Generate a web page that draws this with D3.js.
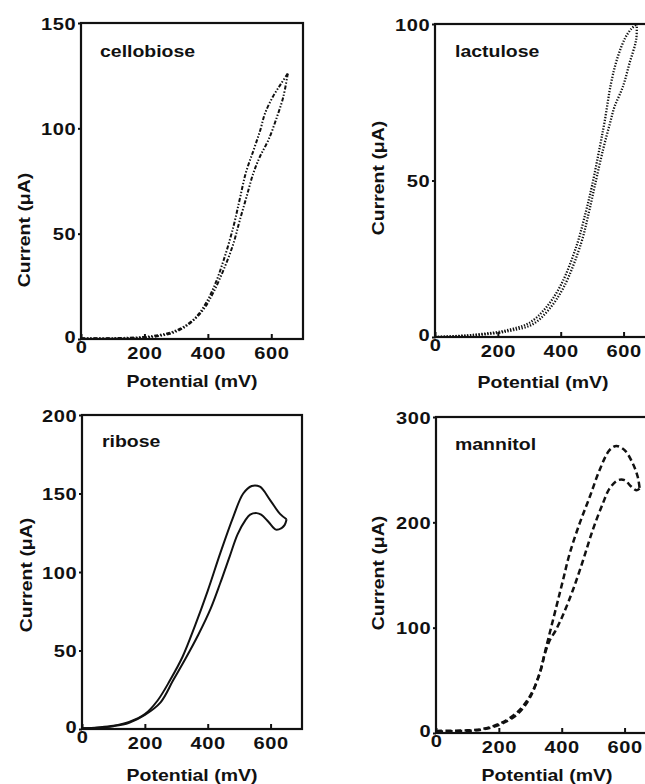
<!DOCTYPE html>
<html>
<head>
<meta charset="utf-8">
<script src="https://cdn.jsdelivr.net/npm/d3@7"></script>
<style>
  body { margin: 0; background: #fff; }
  text { font-family: "Liberation Sans", Arial, sans-serif; font-weight: bold; fill: #111; }
</style>
</head>
<body>
<svg id="chart" width="645" height="784"></svg>
<script>
// Potential axis (mV), shared by the four panels
const potentialDomain = [0, 700];
const potentialTicks = [0, 200, 400, 600];

// Current tick values (uA) per panel
const cellobioseTicks = [0, 50, 100, 150];
const lactuloseTicks = [0, 50, 100];
const riboseTicks = [0, 50, 100, 150, 200];
const mannitolTicks = [0, 100, 200, 300];

// Voltammograms as [potential mV, current uA], forward then reverse scan
const cellobioseForward = [[0, 0.3], [100, 0.4], [200, 1], [250, 2], [280, 3], [320, 5.5], [360, 10], [390, 16],
  [420, 25], [450, 37.5], [480, 53], [500, 66], [520, 79], [545, 90], [565, 99], [580, 107], [605, 115], [630, 121], [652, 126]];
const cellobioseReverse = [[652, 126], [638, 115], [617, 105], [591, 94.5], [564, 86.5], [543, 78.5], [522, 67.5],
  [500, 56], [480, 45], [450, 33], [417, 22], [386, 14], [344, 7.5], [300, 3.5], [250, 1.5], [200, 0.7], [100, 0.3], [0, 0.2]];

const lactuloseForward = [[0, 0], [100, 0.5], [150, 1], [200, 1.6], [250, 2.7], [300, 4.5], [350, 9], [400, 16.5],
  [450, 29], [480, 40], [500, 48.5], [525, 61], [540, 69], [560, 81], [580, 89], [605, 95.5], [625, 98.5], [642, 100]];
const lactuloseReverse = [[642, 100], [640, 95], [619, 87.5], [598, 80], [571, 73.5], [556, 68], [535, 60], [510, 49],
  [490, 40], [465, 30], [410, 16], [360, 8.5], [310, 4], [250, 2.2], [200, 1.3], [100, 0.4], [0, 0]];

const riboseForward = [[0, 0.5], [50, 1], [100, 2], [150, 4.5], [200, 9.5], [240, 18], [280, 31], [320, 46],
  [360, 66], [400, 88], [440, 112], [481, 135], [513, 150], [540, 154.8], [566, 154.3], [598, 146], [630, 137], [651, 133.6]];
const riboseReverse = [[651, 133.6], [645, 130], [635, 128], [617, 127], [593, 132], [570, 136.5], [556, 137.5],
  [535, 136.5], [520, 133], [495, 124], [470, 110], [440, 93], [410, 77], [370, 60], [330, 45], [290, 31],
  [250, 17], [200, 9], [150, 4], [100, 1.8], [50, 0.8], [0, 0.4]];

const mannitolForward = [[0, 2], [100, 2.5], [150, 4], [203, 9], [256, 19], [298, 34.5], [330, 56.5], [351, 82],
  [383, 120], [404, 145], [425, 170], [457, 199], [489, 224], [521, 250], [552, 268.5], [574, 272.5], [600, 268.5],
  [626, 256], [642, 243], [648, 232]];
const mannitolReverse = [[648, 232], [637, 230.5], [621, 234], [600, 240], [579, 240], [552, 232], [531, 218],
  [499, 193], [468, 164], [436, 136], [404, 112], [380, 97], [362, 88], [345, 74], [330, 57], [298, 33], [256, 17],
  [203, 8], [150, 3.5], [100, 2], [0, 1.5]];

// Panel layout (pixel boxes and label placement)
const panels = [
  { name: "cellobiose", scans: [cellobioseForward, cellobioseReverse], yTicks: cellobioseTicks,
    box: { left: 81, right: 303, top: 23, bottom: 339 },
    nameAt: [100, 57], xLabelAt: [192, 387], yLabelAt: [24, 230],
    stroke: { width: 2, dash: "4,1.8,1.4,1.8,1.4,1.8" } },
  { name: "lactulose", scans: [lactuloseForward, lactuloseReverse], yTicks: lactuloseTicks,
    box: { left: 435, right: 655, top: 24, bottom: 337 },
    nameAt: [455, 57], xLabelAt: [543, 388], yLabelAt: [378, 178],
    stroke: { width: 2.3, dash: "1.3,1.6" } },
  { name: "ribose", scans: [riboseForward, riboseReverse], yTicks: riboseTicks,
    box: { left: 82, right: 302, top: 415, bottom: 729 },
    nameAt: [102, 447], xLabelAt: [192, 781], yLabelAt: [26, 575],
    stroke: { width: 2, dash: null } },
  { name: "mannitol", scans: [mannitolForward, mannitolReverse], yTicks: mannitolTicks,
    box: { left: 436, right: 656, top: 417, bottom: 733 },
    nameAt: [455, 450], xLabelAt: [547, 781], yLabelAt: [378, 573],
    stroke: { width: 2.5, dash: "6,3.5" } }
];

// the scanned lettering is a bit wide, so stretch text horizontally
const textStretch = 1.18;

const svg = d3.select("#chart");

panels.forEach(p => {
  const x = d3.scaleLinear().domain(potentialDomain).range([p.box.left, p.box.right]);
  const y = d3.scaleLinear().domain([0, d3.max(p.yTicks)]).range([p.box.bottom, p.box.top]);

  const g = svg.append("g");

  // Frame
  g.append("rect")
    .attr("x", x(potentialDomain[0]))
    .attr("y", y(d3.max(p.yTicks)))
    .attr("width", x(potentialDomain[1]) - x(potentialDomain[0]))
    .attr("height", y(0) - y(d3.max(p.yTicks)))
    .attr("fill", "none")
    .attr("stroke", "#111")
    .attr("stroke-width", 2.2);

  // Bottom axis, ticks pointing inward
  const xAxis = g.append("g")
    .attr("transform", `translate(0, ${y(0)})`)
    .call(d3.axisBottom(x).tickValues(potentialTicks).tickSizeInner(-5).tickSizeOuter(0).tickPadding(8));
  xAxis.select(".domain").remove();
  xAxis.selectAll("line").attr("stroke", "#111").attr("stroke-width", 2);
  xAxis.selectAll("text")
    .attr("font-family", null)
    .style("font-size", "17px")
    .style("letter-spacing", "0.5px")
    .attr("y", d => d === 0 ? 2 : 8)
    .attr("transform", `scale(${textStretch},1)`);

  // Left axis, ticks pointing outward
  const yAxis = g.append("g")
    .attr("transform", `translate(${x(0)}, 0)`)
    .call(d3.axisLeft(y).tickValues(p.yTicks).tickSizeInner(3).tickSizeOuter(0).tickPadding(1));
  yAxis.select(".domain").remove();
  yAxis.selectAll("line").attr("stroke", "#111").attr("stroke-width", 2);
  yAxis.selectAll("text")
    .attr("font-family", null)
    .style("font-size", "17px")
    .style("letter-spacing", "0.5px")
    .attr("dy", d => d === 0 ? "0.22em" : "0.36em")
    .attr("transform", `scale(${textStretch},1)`);
  g.selectAll(".tick text").style("fill", "#111");

  // Scans
  const line = d3.line()
    .x(d => x(d[0]))
    .y(d => y(d[1]))
    .curve(d3.curveCatmullRom.alpha(0.5));

  p.scans.forEach(scan => {
    g.append("path")
      .datum(scan)
      .attr("fill", "none")
      .attr("stroke", "#111")
      .attr("stroke-width", p.stroke.width)
      .attr("stroke-dasharray", p.stroke.dash)
      .attr("stroke-linejoin", "round")
      .attr("d", line);
  });

  // Labels
  g.append("text")
    .attr("transform", `translate(${p.nameAt[0]}, ${p.nameAt[1]}) scale(${textStretch},1)`)
    .style("font-size", "16.5px")
    .text(p.name);

  g.append("text")
    .attr("transform", `translate(${p.xLabelAt[0]}, ${p.xLabelAt[1]}) scale(${textStretch},1)`)
    .attr("text-anchor", "middle")
    .style("font-size", "16.5px")
    .text("Potential (mV)");

  g.append("text")
    .attr("transform", `translate(${p.yLabelAt[0]}, ${p.yLabelAt[1]}) rotate(-90) scale(${textStretch},1)`)
    .attr("text-anchor", "middle")
    .attr("dy", "0.35em")
    .style("font-size", "16.5px")
    .text("Current (μA)");
});
</script>
</body>
</html>
